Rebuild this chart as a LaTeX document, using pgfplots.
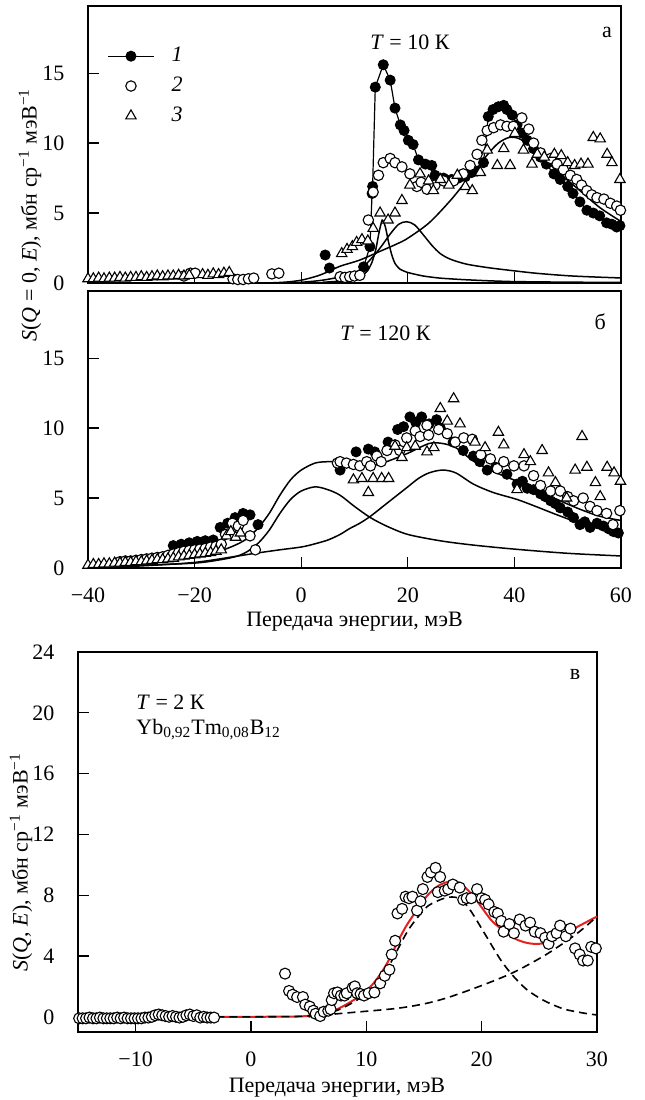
\documentclass[border=0pt]{standalone}
\usepackage{fontspec}
\setmainfont{Liberation Serif}
\usepackage{pgfplots}
\pgfplotsset{compat=1.18}
\definecolor{fitred}{RGB}{228,32,32}
\begin{document}
\fontsize{11}{13}\selectfont
\begin{tikzpicture}
\useasboundingbox (0pt,0pt) rectangle (322pt,550pt);
\pgfplotsset{
 every axis/.append style={
  scale only axis, axis line style={line width=0.75pt},
  tick style={line width=0.6pt,black}, major tick length=5.5pt,
  tick align=inside, tick pos=left,
  yticklabel style={xshift=-8pt}, xticklabel style={yshift=-6pt},
 },
 mycurve/.style={black, line width=0.75pt, smooth, tension=0.5, forget plot, no marks},
 sone/.style={black, line width=0.6pt, mark=*, mark size=2.5pt, mark options={solid, fill=black, draw=black, line width=0.5pt}},
 stwo/.style={only marks, mark=*, mark size=2.6pt, mark options={fill=white, draw=black, line width=0.55pt}},
 sthree/.style={only marks, mark=triangle*, mark size=3pt, mark options={fill=white, draw=black, line width=0.55pt}},
}
% ---------------- panel a ----------------
\begin{axis}[at={(44pt,408.5pt)}, anchor=south west, width=266.5pt, height=138.5pt,
 xmin=-40, xmax=60, ymin=0, ymax=19.8,
 xtick={-40,-20,0,20,40,60}, xticklabels={},
 ytick={0,5,10,15}, yticklabels={0,5,10,15},
 legend style={at={(0.0356,0.711)}, anchor=west, draw=none, fill=none, inner sep=0pt,
   font=\itshape, row sep=4pt, column sep=7.5pt, nodes={inner sep=1pt}},
 legend cell align=left,
 legend image code/.code={\draw[mark repeat=2,mark phase=2,#1] plot coordinates {(0pt,0pt)(11.5pt,0pt)(23pt,0pt)};},
]
% broad component
\addplot[mycurve] coordinates {(-8,0) (-6,0.01) (-3,0.06) (0,0.2) (3,0.5) (5,0.8) (7.3,1.2) (11,1.64) (15,2.3) (18,2.8) (20,3.2) (24,4.3) (28,5.9) (31,7.3) (33,8.2) (35,9.2) (37,10.0) (39,10.4) (41,10.3) (44,9.5) (48,8.0) (52,6.7) (56,5.4) (60,4.4)};
% Lorentz at 19.8
\addplot[mycurve] coordinates {(-2,0.02) (0,0.05) (4,0.2) (8,0.5) (11,0.93) (13.5,1.9) (15,2.6) (16.7,3.5) (18.3,4.2) (19.8,4.38) (21.3,4.15) (23,3.4) (24.5,2.7) (26.1,2.1) (28,1.7) (31,1.35) (35,1.1) (38.6,0.93) (44,0.7) (50,0.52) (55,0.43) (60,0.36)};
% narrow component
\addplot[mycurve, tension=0.35] coordinates {(4,0.05) (8,0.15) (10,0.3) (11.5,0.55) (12.5,0.9) (13.3,1.5) (14,2.4) (14.6,3.6) (15.2,4.5) (15.8,4.0) (16.4,2.9) (17,2.0) (17.6,1.4) (18.5,1.0) (20,0.75) (22.9,0.5) (26,0.35) (30,0.25) (35,0.16) (40,0.1) (50,0.06) (60,0.04)};
% series 1 (isolated points)
\addplot[sone, only marks, forget plot] coordinates {(4.5,2.0) (5.3,1.07)};
% series 1
\addplot[sone] coordinates {(11.7,1.15) (12.9,2.6) (13.3,6.4) (13.4,6.9) (13.9,14.0) (15.4,15.6) (16.7,14.5) (17.6,12.5) (18.6,11.3) (19.3,10.9) (20.1,10.2) (21.0,9.9) (22.0,8.8) (23.3,8.5) (24.5,8.4) (25.1,7.7) (26.7,7.5) (28.2,7.4) (29.5,7.5) (30.8,7.6) (32.0,7.9) (33.0,8.0) (34.2,8.6) (35.1,11.9) (36.0,12.4) (37.0,12.6) (38.0,12.7) (38.6,12.4) (39.6,12.0) (40.5,11.3) (41.5,10.7) (42.4,10.2) (43.6,9.6) (44.9,9.0) (46.0,8.5) (47.4,7.8) (48.6,7.4) (50.0,6.9) (51.0,6.4) (52.3,5.8) (53.6,5.2) (54.8,5.0) (56.0,4.8) (57.3,4.3) (58.3,4.2) (59.2,4.0) (59.8,4.1)};
\addlegendentry{1}
% series 2
\addplot[stwo] coordinates {(-22.0,0.5) (-20.8,0.7) (-19.9,0.7) (-12.8,0.3) (-11.9,0.25) (-10.9,0.25) (-9.9,0.3) (-8.9,0.35) (-5.5,0.65) (-4.2,0.7) (7.3,0.45) (8.2,0.4) (9.1,0.45) (10.0,0.5) (11.0,0.55) (12.6,4.5) (13.5,6.5) (14.5,7.7) (15.4,8.6) (16.7,8.9) (17.6,8.6) (18.9,8.3) (20.4,7.8) (21.7,6.9) (22.5,7.2) (23.6,6.7) (25.1,7.0) (26.7,7.3) (28.6,7.3) (30.4,7.8) (31.7,8.4) (33.0,9.2) (33.9,10.2) (34.9,10.9) (36.1,11.1) (37.4,11.3) (38.6,11.2) (39.8,11.2) (41.4,11.8) (42.7,11.0) (43.6,10.0) (44.9,9.3) (46.8,8.9) (48.0,8.5) (49.2,8.1) (50.5,7.7) (51.7,7.4) (52.6,7.0) (53.6,6.6) (54.5,6.3) (55.5,6.1) (56.8,6.0) (58.0,5.7) (59.2,5.5) (59.9,5.2)};
\addlegendentry{2}
% series 3
\addplot[sthree] coordinates {(-40,0.3) (-39,0.3) (-38,0.35) (-37,0.3) (-36,0.35) (-35,0.35) (-34,0.4) (-33,0.35) (-32,0.4) (-31,0.4) (-30,0.45) (-29,0.4) (-28,0.45) (-27,0.5) (-26,0.45) (-25,0.5) (-24,0.5) (-23,0.55) (-22,0.5) (-21,0.55) (-18.5,0.6) (-17.5,0.55) (-16.5,0.65) (-15.5,0.6) (-14.5,0.7) (-13.5,0.75) (7.6,2.1) (8.6,2.4) (9.6,2.6) (10.4,2.9) (11.4,3.1) (12.5,3.0) (13.5,3.9) (14.8,5.0) (16.3,4.5) (17.6,5.0) (18.9,5.9) (20.4,7.0) (22.3,7.8) (23.9,7.3) (24.8,6.6) (26.1,7.4) (27.7,7.0) (29.3,7.7) (30.8,6.9) (32.1,6.6) (33.6,7.9) (34.9,9.5) (36.8,8.4) (38.0,9.6) (39.2,8.4) (40.1,10.7) (41.7,9.5) (43.3,8.5) (44.3,9.2) (45.6,9.0) (47.5,9.2) (48.8,9.1) (50.0,8.6) (51.3,8.4) (52.5,8.5) (53.8,8.5) (54.8,10.4) (56.1,10.3) (57.4,9.2) (58.3,8.6) (59.8,7.4)};
\addlegendentry{3}
\node at (axis cs:20.4,17.2) {\textit{T} = 10 К};
\node at (axis cs:57.4,17.9) {а};
\end{axis}
% ---------------- panel b ----------------
\begin{axis}[at={(44pt,266pt)}, anchor=south west, width=266.5pt, height=138.5pt,
 xmin=-40, xmax=60, ymin=0, ymax=19.8,
 xtick={-40,-20,0,20,40,60}, xticklabels={−40,−20,0,20,40,60},
 ytick={0,5,10,15}, yticklabels={0,5,10,15},
]
% quasi-elastic component
\addplot[mycurve] coordinates {(-40,0.1) (-30,0.2) (-20,0.35) (-15,0.6) (-12,0.85) (-10,1.2) (-8,1.8) (-6,2.7) (-4,3.9) (-2,4.9) (0,5.5) (2.6,5.8) (5,5.6) (7.3,5.2) (10,4.4) (13,3.6) (16,3.0) (20,2.4) (26,1.95) (32,1.65) (40,1.35) (50,1.05) (60,0.86)};
% broad inelastic component
\addplot[mycurve] coordinates {(-40,0.0) (-30,0.15) (-20,0.4) (-12,0.85) (-8.3,1.07) (-4,1.3) (0,1.5) (2.3,1.7) (5,2.0) (7.3,2.4) (9,2.8) (11,3.2) (13,3.7) (16,4.6) (18,5.2) (20,5.8) (22,6.4) (24,6.8) (26.5,7.0) (29,6.8) (32.3,6.0) (36,5.4) (40.5,4.9) (44,4.4) (48,3.8) (52.3,3.2) (56,2.8) (60,2.5)};
% total
\addplot[mycurve] coordinates {(-40,0.1) (-30,0.35) (-20,0.75) (-15,1.25) (-12,1.7) (-10,2.15) (-8,2.9) (-6,3.9) (-4,5.2) (-2,6.3) (0,7.0) (2.6,7.5) (5,7.6) (7.3,7.6) (10,7.4) (13,7.3) (16,7.6) (20,8.2) (24,8.9) (26.5,8.9) (29,8.6) (32.3,7.65) (36,6.9) (40.5,6.2) (44,5.6) (48,4.9) (52.3,4.2) (56,3.7) (60,3.4)};
\addplot[sone, only marks] coordinates {(-24,1.6) (-22.5,1.7) (-21,1.8) (-19.5,1.9) (-18,1.95) (-16.5,2.0) (-15.2,2.9) (-13.8,3.2) (-12.4,3.6) (-10.9,3.9) (-9.6,3.8) (-8.1,3.1) (7.3,7.0) (10.3,8.3) (12.6,8.5) (13.8,8.3) (16.3,9.0) (18.1,9.9) (19.2,10.1) (20.4,10.8) (21.5,10.4) (22.6,10.8) (24,10.3) (25.4,10.6) (26.1,10.0) (28.5,9.0) (30.4,8.4) (32.3,8.0) (33.5,7.6) (34.9,7.0) (36.5,7.2) (38.6,6.7) (40.5,6.0) (41.5,6.2) (42.4,5.7) (43.6,5.6) (44.9,5.3) (45.8,5.1) (46.8,4.8) (47.7,4.6) (48.6,4.3) (50.0,4.0) (51.1,3.6) (52.3,3.1) (53.2,3.3) (54.2,2.9) (55.5,3.2) (56.7,3.0) (57.7,2.8) (58.6,2.6) (59.5,2.5)};
\addplot[stwo] coordinates {(-34,0.45) (-33,0.5) (-32,0.5) (-31,0.55) (-30,0.6) (-29,0.65) (-28,0.7) (-27,0.75) (-26,0.8) (-25,0.9) (-24,1.0) (-23,1.1) (-22,1.2) (-21,1.25) (-20,1.3) (-19,1.35) (-18,1.4) (-17,1.5) (-16,1.55) (-15,1.7) (-14.2,2.4) (-12.9,3.2) (-11.8,3.0) (-10.9,3.4) (-9.6,2.3) (-8.6,1.3) (6.8,7.5) (7.3,7.6) (8.5,7.5) (9.8,7.4) (11.0,7.3) (12.3,7.6) (13.0,7.3) (14.2,8.0) (15.0,7.6) (16.1,8.4) (17.6,8.8) (18.5,8.4) (19.8,9.3) (21.4,9.8) (22.3,9.4) (23.6,10.2) (23.9,9.5) (25.8,9.9) (27.4,9.6) (28.9,9.0) (30.5,9.3) (32.1,9.2) (33.7,8.1) (35.5,7.8) (36.8,7.1) (38.0,7.6) (39.9,7.3) (41.8,7.3) (43.6,6.6) (44.9,5.9) (46.8,5.5) (48.6,5.5) (50.0,5.1) (51.1,4.8) (52.9,5.0) (54.2,4.4) (55.5,4.1) (57.3,3.9) (58.5,3.1) (59.8,4.1)};
\addplot[sthree] coordinates {(-40,0.2) (-39,0.25) (-38,0.25) (-37,0.3) (-36,0.3) (-35,0.35) (-34,0.35) (-33,0.4) (-32,0.4) (-31,0.45) (-30,0.45) (-29,0.5) (-28,0.55) (-27,0.6) (-26,0.6) (-25,0.65) (-24,0.7) (-23,0.8) (-22,0.85) (-21,0.9) (-20,0.95) (-19,1.0) (-18,1.05) (-17,1.1) (-16,1.2) (-15,1.3) (-14,2.3) (-13.2,2.6) (-12.3,2.2) (-11.4,2.5) (9.8,6.3) (11.4,6.4) (12.6,5.4) (13.5,6.4) (15.1,6.4) (16.4,6.4) (17.6,8.7) (18.9,7.9) (19.8,8.6) (21.4,8.7) (23.6,8.3) (24.9,8.6) (26.1,11.4) (27.4,10.5) (28.6,12.1) (29.8,10.3) (32.6,9.0) (34.5,8.6) (37.0,9.7) (38.0,8.8) (40.5,5.6) (41.8,8.1) (43.0,7.6) (45.2,8.4) (46.4,6.8) (47.7,6.1) (49.8,5.0) (51.4,7.0) (52.7,9.4) (53.6,7.2) (55.2,6.1) (56.1,5.1) (57.4,7.2) (58.7,6.8) (59.9,6.2)};
\node at (axis cs:15.8,16.8) {\textit{T} = 120 К};
\node at (axis cs:56.1,17.6) {б};
\end{axis}
% ---------------- panel v ----------------
\begin{axis}[at={(39pt,34pt)}, anchor=south west, width=259.5pt, height=190pt,
 xmin=-15, xmax=30, ymin=-1, ymax=24,
 xtick={-10,0,10,20,30}, xticklabels={−10,0,10,20,30},
 ytick={0,4,8,12,16,20,24}, yticklabels={0,4,8,12,16,20,24},
]
\addplot[fitred, line width=1pt, smooth, tension=0.5, no marks] coordinates {(-3,0) (0,0) (4,0.02) (5.5,0.1) (6.7,0.25) (8,0.7) (9.5,1.4) (10.5,2.1) (11.3,2.9) (12,3.8) (12.7,4.9) (13.4,5.9) (14,6.6) (15.2,7.9) (16.2,8.6) (17.2,8.9) (18,8.85) (19.1,8.1) (20,7.2) (20.9,6.3) (22,5.6) (23,5.1) (24,4.85) (25,4.8) (26,5.0) (27,5.4) (28,5.8) (29,6.2) (30,6.6)};
\addplot[black, line width=0.8pt, dash pattern=on 4pt off 2.5pt, smooth, tension=0.5, no marks] coordinates {(-3,0) (0,0) (4,0.02) (5.5,0.1) (6.7,0.22) (8,0.6) (9.5,1.25) (10.5,1.9) (11.3,2.6) (12,3.4) (12.7,4.4) (13.4,5.4) (14,6.1) (15.2,7.2) (16.1,7.6) (17,7.85) (17.8,7.85) (18.5,7.5) (19.2,6.8) (20.4,5.3) (21.6,3.8) (22.6,2.8) (23.9,1.8) (25.4,1.07) (27.1,0.52) (28.8,0.25) (30,0.12)};
\addplot[black, line width=0.8pt, dash pattern=on 4pt off 2.5pt, smooth, tension=0.5, no marks] coordinates {(5,0) (6.8,0.15) (9,0.3) (12.6,0.55) (15,0.85) (17,1.25) (19.8,2.0) (22.7,2.9) (25.6,4.1) (28.3,5.5) (30,6.6)};
\addplot[only marks, mark=*, mark size=2.75pt, mark options={fill=white, draw=black, line width=0.55pt}] coordinates {(-14.9,-0.1) (-14.6,-0.1) (-14.3,-0.1) (-14.0,-0.05) (-13.7,-0.1) (-13.4,-0.1) (-13.1,-0.05) (-12.8,-0.1) (-12.5,-0.1) (-12.2,-0.1) (-11.9,-0.1) (-11.6,-0.05) (-11.3,-0.1) (-11.0,-0.05) (-10.7,-0.1) (-10.4,-0.1) (-10.1,-0.1) (-9.8,-0.1) (-9.5,-0.1) (-9.2,-0.05) (-8.9,-0.05) (-8.6,0.0) (-8.3,0.1) (-8.0,0.15) (-7.7,0.1) (-7.4,0.05) (-7.1,0.0) (-6.8,0.05) (-6.5,0.0) (-6.2,-0.05) (-5.9,0.0) (-5.6,0.1) (-5.3,0.15) (-5.0,0.05) (-4.7,0.1) (-4.4,-0.05) (-4.1,0.0) (-3.8,-0.05) (-3.5,-0.05) (-3.2,-0.05)
 (2.95,2.84) (3.3,1.7) (3.6,1.45) (4.0,1.3) (4.5,1.3) (4.7,0.8) (5.1,0.67) (5.4,0.4) (5.6,0.2) (6.0,0.05) (6.3,0.33) (6.7,0.4) (6.9,0.5) (7.0,1.1) (7.2,1.55) (7.5,1.6) (7.8,1.4) (8.1,1.4) (8.3,1.55) (8.8,1.9) (9.0,2.0) (9.2,1.55) (9.5,1.5) (9.8,1.4) (10.2,1.55) (10.7,1.6) (11.2,2.2) (11.6,2.7) (12.0,3.1) (12.2,4.1) (12.5,5.0) (12.7,6.8) (13.1,7.1) (13.4,7.9) (13.7,7.8) (14.0,7.9) (14.4,7.0) (14.7,7.6) (14.9,8.4) (15.3,9.2) (15.6,9.5) (16.0,9.8) (16.4,9.2) (16.2,8.2) (16.8,8.3) (17.1,8.4) (17.5,8.7) (18.1,8.5) (18.4,7.7) (18.7,7.8) (19.1,7.8) (19.6,8.4) (20.0,7.8) (20.3,7.7) (20.6,7.4) (21.1,6.9) (21.4,6.8) (21.7,6.3) (21.9,5.6) (22.4,6.1) (22.8,5.5) (23.3,6.4) (23.8,6.0) (24.2,6.2) (24.6,5.6) (25.1,5.5) (25.5,5.2) (25.8,4.8) (26.1,5.3) (26.5,5.5) (26.8,6.0) (27.3,5.3) (27.7,5.8) (28.1,4.5) (28.5,4.1) (28.8,3.7) (29.2,3.7) (29.5,4.6) (29.9,4.5)};
\node at (axis cs:28.1,22.5) {в};
\node[anchor=west] at (axis cs:-10.6,20.7) {\textit{T} = 2 К};
\node[anchor=west] at (axis cs:-10.6,18.9) {Yb\textsubscript{0,92}Tm\textsubscript{0,08}B\textsubscript{12}};
\end{axis}
% axis labels
\node[rotate=90] at (15pt,442.5pt) {\textit{S}(\textit{Q} = 0, \textit{E}), мбн ср\textsuperscript{−1} мэВ\textsuperscript{−1}};
\node at (177.25pt,239pt) {Передача энергии, мэВ};
\node[rotate=90] at (10.5pt,119pt) {\textit{S}(\textit{Q}, \textit{E}), мбн ср\textsuperscript{−1} мэВ\textsuperscript{−1}};
\node at (168.5pt,6pt) {Передача энергии, мэВ};
\end{tikzpicture}
\end{document}
